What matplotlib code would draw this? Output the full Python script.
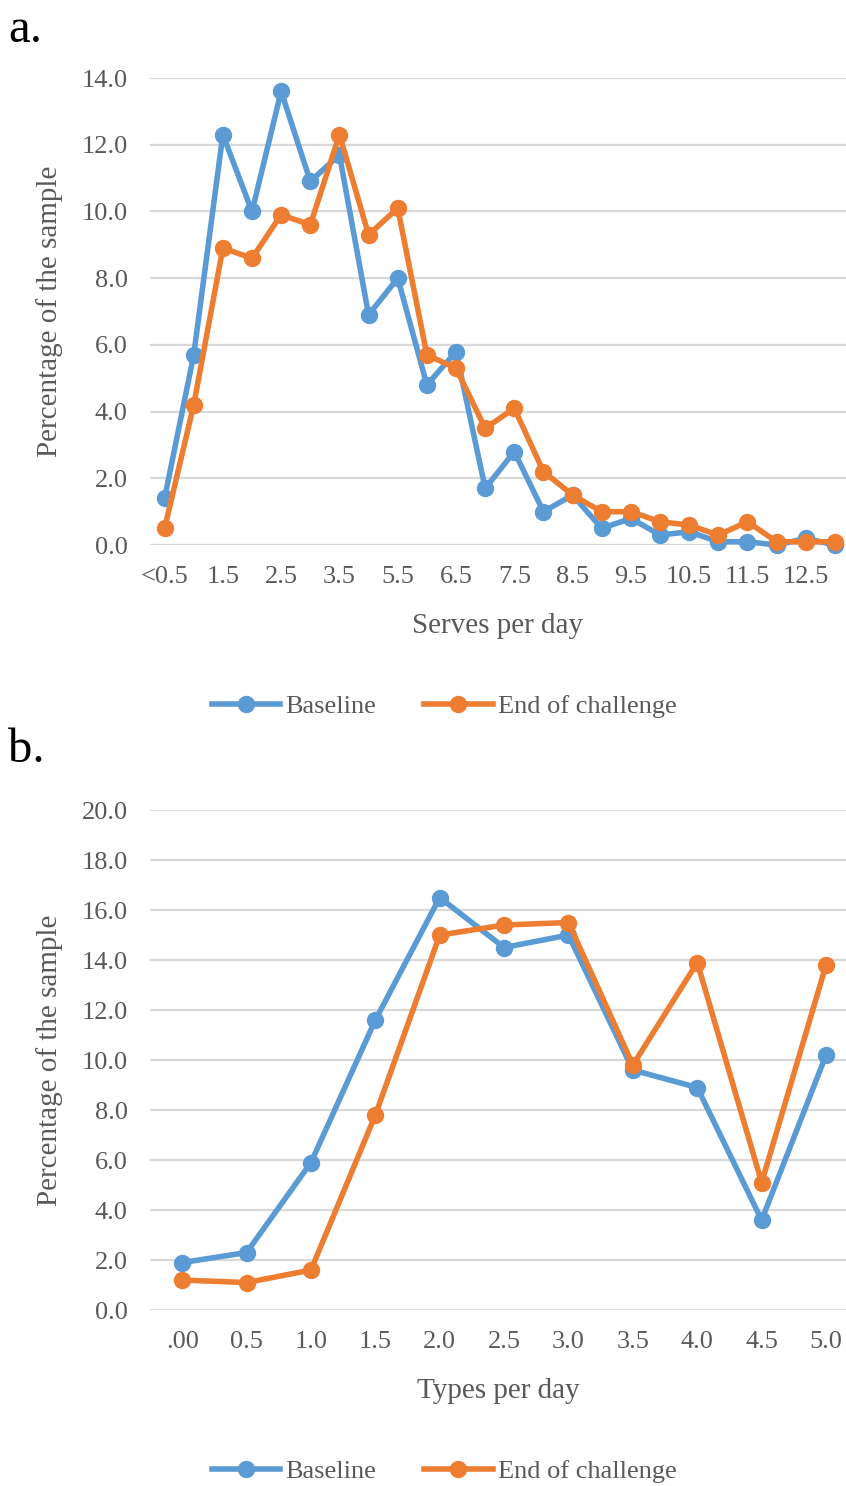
import numpy as np
import matplotlib.pyplot as plt
from matplotlib.ticker import FormatStrFormatter

plt.rcParams['font.family'] = ['Liberation Serif', 'DejaVu Serif']

# panel a: serves per day
serve_cats = ['<0.5', '1.0', '1.5', '2.0', '2.5', '3.0', '3.5', '4.5', '5.5', '6.0',
              '6.5', '7.0', '7.5', '8.0', '8.5', '9.0', '9.5', '10.0', '10.5', '11.0',
              '11.5', '12.0', '12.5', '13.0']
serve_base = [1.4, 5.7, 12.3, 10.0, 13.6, 10.9, 11.7, 6.9, 8.0, 4.8,
              5.8, 1.7, 2.8, 1.0, 1.5, 0.5, 0.8, 0.3, 0.4, 0.1,
              0.1, 0.0, 0.2, 0.0]
serve_end = [0.5, 4.2, 8.9, 8.6, 9.9, 9.6, 12.3, 9.3, 10.1, 5.7,
             5.3, 3.5, 4.1, 2.2, 1.5, 1.0, 1.0, 0.7, 0.6, 0.3,
             0.7, 0.1, 0.1, 0.1]

# panel b: types per day
type_cats = ['.00', '0.5', '1.0', '1.5', '2.0', '2.5', '3.0', '3.5', '4.0', '4.5', '5.0']
type_base = [1.9, 2.3, 5.9, 11.6, 16.5, 14.5, 15.0, 9.6, 8.9, 3.6, 10.2]
type_end = [1.2, 1.1, 1.6, 7.8, 15.0, 15.4, 15.5, 9.8, 13.9, 5.1, 13.8]

BLUE = '#5B9BD5'
ORANGE = '#ED7D31'
GREY = '#595959'
GRID = '#D9D9D9'

fig = plt.figure(figsize=(8.46, 14.86), dpi=100)


def draw(ax, cats, base, end, ymax, xlabel, step, xright):
    x = np.arange(len(cats))
    ax.plot(x, base, color=BLUE, lw=4, marker='o', ms=11.5, label='Baseline', clip_on=False, zorder=3)
    ax.plot(x, end, color=ORANGE, lw=4, marker='o', ms=11.5, label='End of challenge', clip_on=False, zorder=4)
    ax.set_xlim(-0.5, xright)
    ax.set_ylim(0, ymax)
    ax.set_yticks(np.arange(0, ymax + 0.1, 2))
    ax.yaxis.set_major_formatter(FormatStrFormatter('%.1f'))
    ax.set_xticks(x[::step])
    ax.set_xticklabels(cats[::step])
    ax.grid(axis='y', color=GRID, lw=1.6)
    ax.set_axisbelow(True)
    for s in ax.spines.values():
        s.set_visible(False)
    ax.tick_params(axis='both', length=0, labelsize=19, colors=GREY)
    ax.tick_params(axis='y', pad=16)
    ax.tick_params(axis='x', pad=15)
    ax.set_xlabel(xlabel, fontsize=21, color=GREY, labelpad=18)
    ax.set_ylabel('Percentage of the sample', fontsize=21, color=GREY, labelpad=13)


ax1 = fig.add_axes([0.1773, 0.6332, 1.0 - 0.1773, 0.9475 - 0.6332])
draw(ax1, serve_cats, serve_base, serve_end, 14, 'Serves per day', 2, 23.38)
ax2 = fig.add_axes([0.1773, 0.1184, 1.0 - 0.1773, 0.4549 - 0.1184])
draw(ax2, type_cats, type_base, type_end, 20, 'Types per day', 1, 10.31)

for ax, ly in ((ax1, 1 - 706 / 1486), (ax2, 1 - 1471 / 1486)):
    h, l = ax.get_legend_handles_labels()
    fig.legend(h, l, loc='center', bbox_to_anchor=(0.525, ly), ncol=2, frameon=False,
               fontsize=19, labelcolor=GREY, handlelength=2.6, handletextpad=0.2,
               columnspacing=1.8)

fig.text(0.010, 1 - 30 / 1486, 'a.', fontsize=35, va='center', ha='left', color='black')
fig.text(0.010, 1 - 750 / 1486, 'b.', fontsize=35, va='center', ha='left', color='black')

plt.savefig('out.png', dpi=100)
plt.close()
